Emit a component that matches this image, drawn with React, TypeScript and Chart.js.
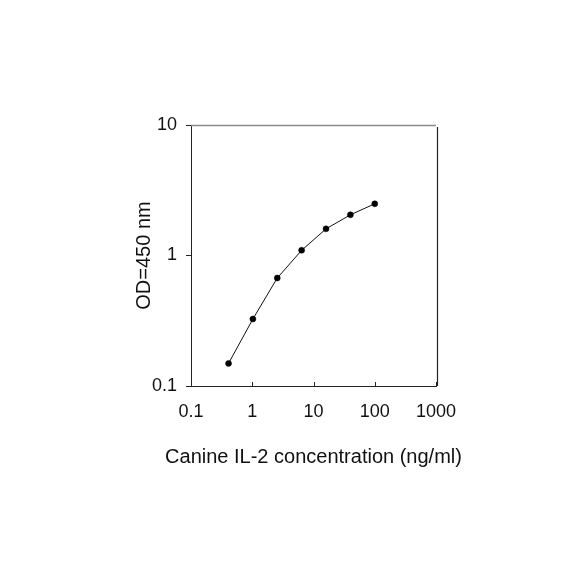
import React, { useEffect, useRef } from "react";
import { Chart, registerables } from "chart.js";

Chart.register(...registerables);

const concentrations = [0.41, 1.024, 2.56, 6.4, 16, 40, 100];
const odValues = [0.149, 0.326, 0.672, 1.096, 1.6, 2.05, 2.49];
const xTicks = [0.1, 1, 10, 100, 1000];
const yTicks = [0.1, 1, 10];
const xTitle = "Canine IL-2 concentration (ng/ml)";
const yTitle = "OD=450 nm";

const FONT = "'Liberation Sans', Arial, sans-serif";

const framePlugin = {
  id: "frame",
  afterDraw(chart: any) {
    const { ctx, chartArea, scales } = chart;
    const { left, right, top, bottom } = chartArea;
    ctx.save();
    // top border (lighter)
    ctx.strokeStyle = "#8a8a8a";
    ctx.lineWidth = 1.5;
    ctx.beginPath();
    ctx.moveTo(left, top + 0.5);
    ctx.lineTo(right, top + 0.5);
    ctx.stroke();
    // right border
    ctx.strokeStyle = "#222";
    ctx.lineWidth = 1.2;
    ctx.beginPath();
    ctx.moveTo(right + 1.5, top + 2);
    ctx.lineTo(right + 1.5, bottom);
    ctx.stroke();
    // inward x ticks
    ctx.strokeStyle = "#222";
    ctx.lineWidth = 1;
    const xs = scales.x;
    xTicks.forEach((v) => {
      const px = Math.round(xs.getPixelForValue(v)) + 0.5;
      ctx.beginPath();
      ctx.moveTo(px, bottom);
      ctx.lineTo(px, bottom - 4);
      ctx.stroke();
    });
    // x axis title (drawn without width compression)
    ctx.fillStyle = "#111";
    ctx.font = `20px ${FONT}`;
    ctx.textAlign = "center";
    ctx.textBaseline = "alphabetic";
    ctx.fillText(xTitle, (xs.left + xs.right) / 2, bottom + 77);
    ctx.restore();
  },
};

export default function App() {
  const ref = useRef<HTMLCanvasElement>(null);
  useEffect(() => {
    document.body.style.margin = "0";
    const canvas = ref.current!;
    const chart = new Chart(canvas, {
      type: "line",
      data: {
        datasets: [
          {
            data: concentrations.map((x, i) => ({ x, y: odValues[i] })),
            borderColor: "#111",
            borderWidth: 1,
            pointBackgroundColor: "#000",
            pointBorderColor: "#000",
            pointRadius: 3,
            pointBorderWidth: 0.5,
            fill: false,
            tension: 0,
          },
        ],
      },
      options: {
        responsive: false,
        animation: false,
        maintainAspectRatio: false,
        layout: { padding: { left: 0, top: 125, right: 148, bottom: 0 } },
        plugins: { legend: { display: false }, tooltip: { enabled: false } },
        scales: {
          x: {
            type: "logarithmic",
            min: 0.1,
            max: 1000,
            afterBuildTicks: (s: any) => {
              s.ticks = xTicks.map((v) => ({ value: v }));
            },
            afterFit: (s: any) => {
              s.height = 198;
            },
            grid: { display: true, drawOnChartArea: false, drawTicks: false },
            border: { display: true, color: "#222", width: 1 },
            ticks: {
              autoSkip: false,
              maxRotation: 0,
              padding: 15,
              color: "#111",
              font: { family: FONT, size: 18 },
              callback: (v: any) => String(v),
            },
            title: { display: false },
          },
          y: {
            type: "logarithmic",
            min: 0.1,
            max: 10,
            afterBuildTicks: (s: any) => {
              s.ticks = yTicks.map((v) => ({ value: v }));
            },
            afterFit: (s: any) => {
              s.width = 191;
            },
            grid: {
              display: true,
              drawOnChartArea: false,
              drawTicks: true,
              tickLength: 5,
              color: "#222",
            },
            border: { display: true, color: "#222", width: 1 },
            ticks: {
              autoSkip: false,
              padding: 9,
              color: "#111",
              font: { family: FONT, size: 18 },
              callback: (v: any) => String(v),
            },
            title: {
              display: true,
              text: yTitle,
              color: "#111",
              font: { family: FONT, size: 20 },
              padding: { top: 132, bottom: 0 },
            },
          },
        },
      },
      plugins: [framePlugin],
    });
    return () => chart.destroy();
  }, []);
  return (
    <canvas
      ref={ref}
      width={584}
      height={584}
      style={{ display: "block", width: 584, height: 584 }}
    />
  );
}
